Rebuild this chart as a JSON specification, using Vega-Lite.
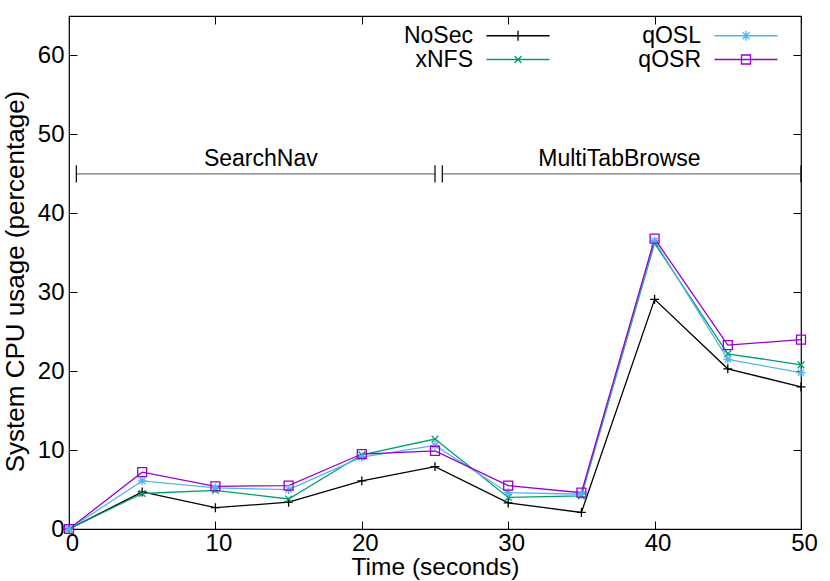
{
  "$schema": "https://vega.github.io/schema/vega-lite/v6.json",
  "width": 732,
  "height": 513,
  "autosize": "none",
  "padding": {"left": 69, "top": 16, "right": 29, "bottom": 52},
  "background": "white",
  "config": {
    "font": "Liberation Sans",
    "view": {"stroke": "black", "strokeWidth": 1.2},
    "axis": {"grid": false, "domain": false, "tickColor": "black", "labelColor": "black", "titleColor": "black", "labelFont": "Liberation Sans", "titleFont": "Liberation Sans", "titleFontWeight": "normal"}
  },
  "datasets": {
    "cpu": [
      {"t": 0, "series": "NoSec", "v": 0},
      {"t": 5, "series": "NoSec", "v": 4.7},
      {"t": 10, "series": "NoSec", "v": 2.7},
      {"t": 15, "series": "NoSec", "v": 3.4},
      {"t": 20, "series": "NoSec", "v": 6.1},
      {"t": 25, "series": "NoSec", "v": 7.9},
      {"t": 30, "series": "NoSec", "v": 3.3},
      {"t": 35, "series": "NoSec", "v": 2.1},
      {"t": 40, "series": "NoSec", "v": 29.1},
      {"t": 45, "series": "NoSec", "v": 20.3},
      {"t": 50, "series": "NoSec", "v": 18.0},
      {"t": 0, "series": "xNFS", "v": 0},
      {"t": 5, "series": "xNFS", "v": 4.5},
      {"t": 10, "series": "xNFS", "v": 4.9},
      {"t": 15, "series": "xNFS", "v": 3.8},
      {"t": 20, "series": "xNFS", "v": 9.4},
      {"t": 25, "series": "xNFS", "v": 11.4},
      {"t": 30, "series": "xNFS", "v": 4.0},
      {"t": 35, "series": "xNFS", "v": 4.2},
      {"t": 40, "series": "xNFS", "v": 36.2},
      {"t": 45, "series": "xNFS", "v": 22.2},
      {"t": 50, "series": "xNFS", "v": 20.8},
      {"t": 0, "series": "qOSL", "v": 0},
      {"t": 5, "series": "qOSL", "v": 6.1},
      {"t": 10, "series": "qOSL", "v": 5.2},
      {"t": 15, "series": "qOSL", "v": 5.0},
      {"t": 20, "series": "qOSL", "v": 9.1},
      {"t": 25, "series": "qOSL", "v": 10.6},
      {"t": 30, "series": "qOSL", "v": 4.6},
      {"t": 35, "series": "qOSL", "v": 4.4},
      {"t": 40, "series": "qOSL", "v": 36.5},
      {"t": 45, "series": "qOSL", "v": 21.5},
      {"t": 50, "series": "qOSL", "v": 19.8},
      {"t": 0, "series": "qOSR", "v": 0},
      {"t": 5, "series": "qOSR", "v": 7.2},
      {"t": 10, "series": "qOSR", "v": 5.4},
      {"t": 15, "series": "qOSR", "v": 5.5},
      {"t": 20, "series": "qOSR", "v": 9.5},
      {"t": 25, "series": "qOSR", "v": 9.9},
      {"t": 30, "series": "qOSR", "v": 5.5},
      {"t": 35, "series": "qOSR", "v": 4.6},
      {"t": 40, "series": "qOSR", "v": 36.8},
      {"t": 45, "series": "qOSR", "v": 23.3},
      {"t": 50, "series": "qOSR", "v": 24.0}
    ],
    "phases": [
      {"phase": "SearchNav", "start": 0.5, "end": 25.0, "level": 45, "mid": 13.1, "lo": 43.9, "hi": 46.1},
      {"phase": "MultiTabBrowse", "start": 25.5, "end": 50, "level": 45, "mid": 37.6, "lo": 43.9, "hi": 46.1}
    ]
  },
  "resolve": {"axis": {"x": "independent", "y": "independent"}},
  "layer": [
    {
      "data": {"name": "cpu"},
      "mark": {"type": "line", "strokeWidth": 1.3},
      "encoding": {
        "x": {"field": "t", "type": "quantitative", "scale": {"domain": [0, 50], "nice": false},
              "axis": {"orient": "bottom", "values": [0, 10, 20, 30, 40, 50], "title": "Time (seconds)", "tickSize": -8, "labelPadding": 10, "labelOffset": 3, "labelFlush": false, "labelFontSize": 24, "labelBaseline": "top", "titleFontSize": 24.5, "titleBaseline": "alphabetic", "titleY": 45.5}},
        "y": {"field": "v", "type": "quantitative", "scale": {"domain": [0, 65], "nice": false},
              "axis": {"orient": "left", "values": [0, 10, 20, 30, 40, 50, 60], "title": "System CPU usage (percentage)", "tickSize": -8, "labelPadding": 13, "labelFontSize": 24, "titleFontSize": 26, "titleBaseline": "alphabetic", "titleX": -46, "titleY": 265}},
        "color": {"field": "series", "type": "nominal",
                  "scale": {"domain": ["NoSec", "xNFS", "qOSL", "qOSR"], "range": ["#000000", "#009e73", "#56b4e9", "#9400d3"]},
                  "legend": {"orient": "none", "legendX": 406, "legendY": 8, "columns": 2, "title": null,
                             "labelFontSize": 23, "labelColor": "black", "labelAlign": "right", "labelOffset": -25,
                             "symbolSize": 100, "symbolStrokeWidth": 1.3, "columnPadding": 85, "rowPadding": 0,
                             "encode": {"symbols": {"update": {"shape": {"signal": "datum.value === 'NoSec' ? 'M0,0L12.6,0M6.3,-1L6.3,1' : datum.value === 'xNFS' ? 'M0,0L12.6,0M5.6,-0.7L7,0.7M5.6,0.7L7,-0.7' : datum.value === 'qOSL' ? 'M0,0L12.6,0M5.3,0L7.3,0M6.3,-1L6.3,1M5.6,-0.7L7,0.7M5.6,0.7L7,-0.7' : 'M0,0L12.6,0M5.4,-0.9L7.2,-0.9L7.2,0.9L5.4,0.9Z'"}}}}}
        }
      }
    },
    {
      "data": {"name": "cpu"},
      "transform": [{"filter": "datum.series === 'NoSec'"}],
      "mark": {"type": "point", "filled": false, "size": 80, "strokeWidth": 1.3, "opacity": 1, "shape": "M-1,0L1,0M0,-1L0,1"},
      "encoding": {
        "x": {"field": "t", "type": "quantitative", "axis": null},
        "y": {"field": "v", "type": "quantitative", "axis": null},
        "color": {"field": "series", "type": "nominal"}
      }
    },
    {
      "data": {"name": "cpu"},
      "transform": [{"filter": "datum.series === 'xNFS'"}],
      "mark": {"type": "point", "filled": false, "size": 80, "strokeWidth": 1.3, "opacity": 1, "shape": "M-0.75,-0.75L0.75,0.75M-0.75,0.75L0.75,-0.75"},
      "encoding": {
        "x": {"field": "t", "type": "quantitative", "axis": null},
        "y": {"field": "v", "type": "quantitative", "axis": null},
        "color": {"field": "series", "type": "nominal"}
      }
    },
    {
      "data": {"name": "cpu"},
      "transform": [{"filter": "datum.series === 'qOSL'"}],
      "mark": {"type": "point", "filled": false, "size": 80, "strokeWidth": 1.3, "opacity": 1, "shape": "M-1,0L1,0M0,-1L0,1M-0.7,-0.7L0.7,0.7M-0.7,0.7L0.7,-0.7"},
      "encoding": {
        "x": {"field": "t", "type": "quantitative", "axis": null},
        "y": {"field": "v", "type": "quantitative", "axis": null},
        "color": {"field": "series", "type": "nominal"}
      }
    },
    {
      "data": {"name": "cpu"},
      "transform": [{"filter": "datum.series === 'qOSR'"}],
      "mark": {"type": "point", "filled": false, "size": 80, "strokeWidth": 1.3, "opacity": 1, "shape": "square"},
      "encoding": {
        "x": {"field": "t", "type": "quantitative", "axis": null},
        "y": {"field": "v", "type": "quantitative", "axis": null},
        "color": {"field": "series", "type": "nominal"}
      }
    },
    {
      "data": {"name": "phases"},
      "mark": {"type": "rule", "color": "#777777", "strokeWidth": 1.2},
      "encoding": {
        "x": {"field": "start", "type": "quantitative", "axis": null},
        "x2": {"field": "end"},
        "y": {"field": "level", "type": "quantitative", "axis": null}
      }
    },
    {
      "data": {"name": "phases"},
      "mark": {"type": "rule", "color": "black", "strokeWidth": 1.2},
      "encoding": {
        "x": {"field": "start", "type": "quantitative", "axis": null},
        "y": {"field": "lo", "type": "quantitative", "axis": null},
        "y2": {"field": "hi"}
      }
    },
    {
      "data": {"name": "phases"},
      "mark": {"type": "rule", "color": "black", "strokeWidth": 1.2},
      "encoding": {
        "x": {"field": "end", "type": "quantitative", "axis": null},
        "y": {"field": "lo", "type": "quantitative", "axis": null},
        "y2": {"field": "hi"}
      }
    },
    {
      "data": {"name": "phases"},
      "mark": {"type": "text", "fontSize": 23, "color": "black", "baseline": "alphabetic", "dy": -8, "font": "Liberation Sans"},
      "encoding": {
        "x": {"field": "mid", "type": "quantitative", "axis": null},
        "y": {"field": "level", "type": "quantitative", "axis": null},
        "text": {"field": "phase"}
      }
    },
    {
      "data": {"name": "cpu"},
      "mark": {"type": "point", "opacity": 0},
      "encoding": {
        "x": {"field": "t", "type": "quantitative", "axis": {"orient": "top", "values": [0, 10, 20, 30, 40, 50], "labels": false, "title": null, "tickSize": -8}},
        "y": {"field": "v", "type": "quantitative", "axis": {"orient": "right", "values": [0, 10, 20, 30, 40, 50, 60], "labels": false, "title": null, "tickSize": -8}}
      }
    }
  ]
}
